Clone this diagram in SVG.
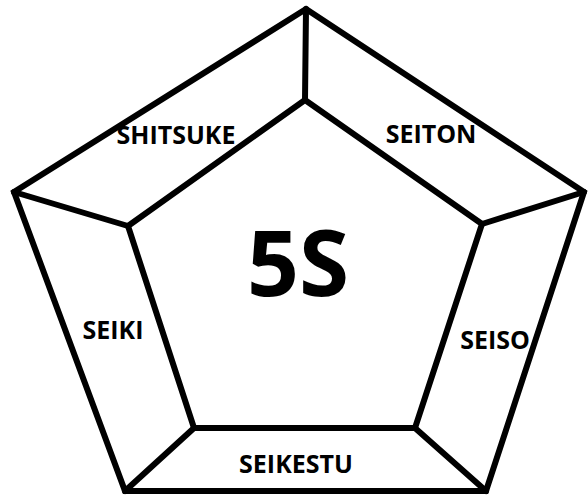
<svg xmlns="http://www.w3.org/2000/svg" width="588" height="495" viewBox="0 0 588 495">
<style>
.ln{stroke:#000;stroke-width:6;fill:none;stroke-linejoin:miter;stroke-linecap:round}
.lb{font-family:"Open Sans","Liberation Sans",sans-serif;font-weight:bold;font-size:25px;fill:#000;text-anchor:middle}
.big{font-family:"Open Sans","Liberation Sans",sans-serif;font-weight:bold;font-size:91px;fill:#000;text-anchor:middle}
</style>
<rect width="588" height="495" fill="#fff"/>
<g id="connectors">
<polygon class="ln" points="306,9 584,192 486,491 125,491 14,192"/>
<polygon class="ln" points="305,100 482,224 415,428 194,428 128,226"/>
<line class="ln" x1="306" y1="9" x2="305" y2="100"/>
<line class="ln" x1="584" y1="192" x2="482" y2="224"/>
<line class="ln" x1="486" y1="491" x2="415" y2="428"/>
<line class="ln" x1="125" y1="491" x2="194" y2="428"/>
<line class="ln" x1="14" y1="192" x2="128" y2="226"/>
</g>
<g id="center"><text class="big" x="298" y="296">5S</text></g>
<g id="shitsuke"><text class="lb" x="176" y="144">SHITSUKE</text></g>
<g id="seiton"><text class="lb" x="431" y="143">SEITON</text></g>
<g id="seiki"><text class="lb" x="113" y="339">SEIKI</text></g>
<g id="seiso"><text class="lb" x="495" y="349">SEISO</text></g>
<g id="seikestu"><text class="lb" x="296" y="473">SEIKESTU</text></g>
</svg>
